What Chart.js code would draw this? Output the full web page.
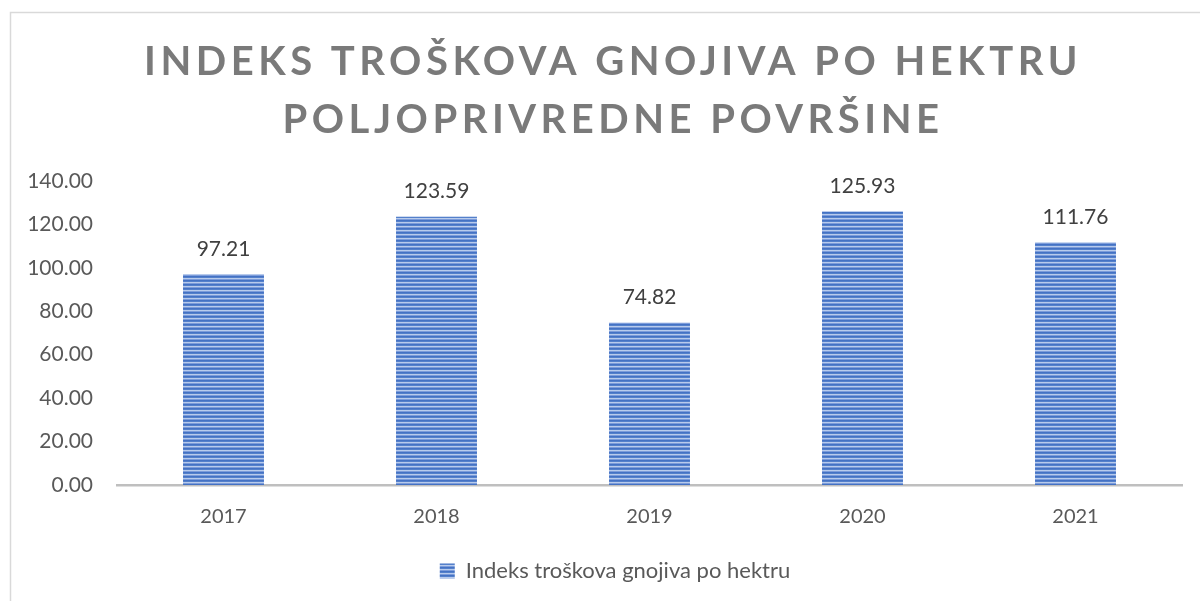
<!DOCTYPE html>
<html>
<head>
<meta charset="utf-8">
<script src="https://cdn.jsdelivr.net/npm/chart.js@4"></script>
<style>
html,body{margin:0;padding:0;background:#fff;}
#wrap{position:relative;width:1200px;height:601px;}
</style>
</head>
<body>
<div id="wrap"><canvas id="c" width="1200" height="601"></canvas></div>
<script>
const categories = ['2017', '2018', '2019', '2020', '2021'];
const values = [97.21, 123.59, 74.82, 125.93, 111.76];
const seriesName = 'Indeks troškova gnojiva po hektru';
const titleLines = ['INDEKS TROŠKOVA GNOJIVA PO HEKTRU', 'POLJOPRIVREDNE POVRŠINE'];
const yTicks = [0, 20, 40, 60, 80, 100, 120, 140];

const FONT = 'Lato, "Open Sans", sans-serif';

function makePattern() {
  const p = document.createElement('canvas');
  p.width = 4; p.height = 4;
  const g = p.getContext('2d');
  const rows = ['#4472C4', '#5480cb', '#b8cbec', '#7c9cda'];
  rows.forEach((c, i) => { g.fillStyle = c; g.fillRect(0, i, 4, 1); });
  return g.createPattern(p, 'repeat');
}
const ctx0 = document.getElementById('c').getContext('2d');
const pattern = makePattern();

const borderPlugin = {
  id: 'outerBorder',
  beforeDraw(chart) {
    const ctx = chart.ctx;
    ctx.save();
    ctx.fillStyle = '#fff';
    ctx.fillRect(0, 0, chart.width, chart.height);
    ctx.strokeStyle = '#D9D9D9';
    ctx.lineWidth = 1.5;
    ctx.strokeRect(10.5, 12.5, 1300, 700);
    ctx.restore();
  }
};

const labelPlugin = {
  id: 'valueLabels',
  afterDatasetsDraw(chart) {
    const ctx = chart.ctx;
    const meta = chart.getDatasetMeta(0);
    ctx.save();
    ctx.font = '21px ' + FONT;
    ctx.fillStyle = '#404040';
    ctx.textAlign = 'center';
    ctx.textBaseline = 'middle';
    meta.data.forEach((bar, i) => {
      ctx.fillText(values[i].toFixed(2), bar.x, bar.y - 25);
    });
    ctx.restore();
  }
};

const chart = new Chart(ctx0, {
  type: 'bar',
  data: {
    labels: categories,
    datasets: [{
      label: seriesName,
      data: values,
      backgroundColor: pattern,
      borderWidth: 0,
      categoryPercentage: 1,
      barPercentage: 0.38
    }]
  },
  options: {
    responsive: false,
    animation: false,
    devicePixelRatio: 1,
    layout: { padding: { left: 0, right: 18, top: 0, bottom: 12 } },
    plugins: {
      tooltip: { enabled: false },
      title: {
        display: true,
        text: titleLines,
        color: '#7A7A7A',
        font: { family: FONT, size: 40, weight: 'bold', lineHeight: 1.45 },
        padding: { top: 33, bottom: 32 }
      },
      legend: {
        display: true,
        position: 'bottom',
        labels: {
          color: '#595959',
          font: { family: FONT, size: 22 },
          boxWidth: 15,
          boxHeight: 15,
          padding: 8
        }
      }
    },
    scales: {
      x: {
        grid: { display: false, drawTicks: false },
        border: { display: true, color: '#BFBFBF', width: 2.5 },
        ticks: { color: '#595959', font: { family: FONT, size: 20 }, padding: 20 }
      },
      y: {
        min: 0, max: 140,
        afterBuildTicks(scale) { scale.ticks = yTicks.map(v => ({ value: v })); },
        afterFit(scale) { scale.width = 117; },
        grid: { display: false, drawTicks: false },
        border: { display: false },
        ticks: {
          color: '#595959',
          font: { family: FONT, size: 21 },
          padding: 24,
          callback: v => Number(v).toFixed(2)
        }
      }
    }
  },
  plugins: [borderPlugin, labelPlugin]
});

const origDraw = chart.titleBlock.draw;
chart.titleBlock.draw = function () {
  const ctx = this.ctx;
  ctx.save();
  ctx.letterSpacing = '4.5px';
  ctx.translate(22, 0);
  origDraw.apply(this, arguments);
  ctx.restore();
};
const origLegendDraw = chart.legend.draw;
chart.legend.draw = function () {
  const ctx = this.ctx;
  ctx.save();
  ctx.translate(24, 3);
  origLegendDraw.apply(this, arguments);
  ctx.restore();
};
chart.draw();
</script>
</body>
</html>
